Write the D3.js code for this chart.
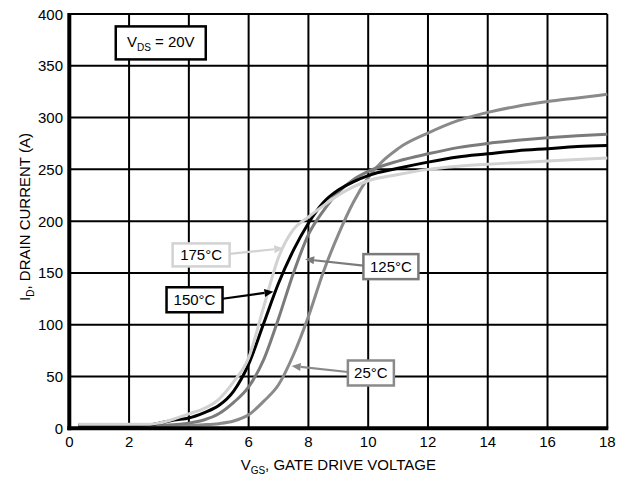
<!DOCTYPE html>
<html><head><meta charset="utf-8">
<script src="https://cdn.jsdelivr.net/npm/d3@7"></script>
<style>
html,body{margin:0;padding:0;background:#fff;}
text{font-family:"Liberation Sans",Arial,sans-serif;}
</style></head>
<body><svg id="c" width="629" height="479"></svg>
<script>
// ---- data ----
const vgs = [0.3, 2, 2.7, 3, 3.5, 4, 4.5, 5, 5.5, 6, 6.5, 7, 7.5, 8, 8.5, 9, 9.5, 10, 11, 12, 13, 14, 15, 16, 17, 18];
const id25  = [3, 3, 3, 3, 3, 3, 3.5, 4.5, 7, 13, 26, 42, 71, 108, 151, 187, 218, 242, 270, 285, 297, 305, 311, 315.5, 319, 322.5];
const id125 = [3, 3, 3, 3, 3.5, 5, 8, 14, 25, 40, 66, 106, 150, 187, 210, 228, 240, 248, 258, 265, 271, 275, 278, 280.5, 282.5, 284];
const id150 = [3, 3, 3.5, 5, 8, 10, 15, 22, 36, 62, 101, 140, 172, 198, 218, 230, 238, 244, 251, 257, 262, 265, 268, 270, 272, 273];
const id175 = [4, 4, 4, 5, 9, 14, 19, 28, 45, 68, 117, 165, 192, 204, 215, 225, 233, 239, 245, 250, 253, 255, 256.5, 258, 259.5, 261];
const seriesNames = ["25°C", "125°C", "150°C", "175°C"];
const xTicks = [0, 2, 4, 6, 8, 10, 12, 14, 16, 18];
const yTicks = [0, 50, 100, 150, 200, 250, 300, 350, 400];

// ---- layout ----
const svg = d3.select("#c");
const x = d3.scaleLinear().domain([0, 18]).range([69.3, 607.3]);
const y = d3.scaleLinear().domain([0, 400]).range([428.3, 14]);
const colors = {"25°C": "#8a8a8a", "125°C": "#7b7b7b", "150°C": "#000000", "175°C": "#d2d2d2"};
const values = {"25°C": id25, "125°C": id125, "150°C": id150, "175°C": id175};

// grid
svg.append("g").selectAll("line.v").data(xTicks).join("line")
  .attr("x1", d => x(d)).attr("x2", d => x(d)).attr("y1", y(0)).attr("y2", y(400))
  .attr("stroke", "#000").attr("stroke-width", 2);
svg.append("g").selectAll("line.h").data(yTicks).join("line")
  .attr("x1", x(0)).attr("x2", x(18)).attr("y1", d => y(d)).attr("y2", d => y(d))
  .attr("stroke", "#000").attr("stroke-width", 2);

// curves
const line = d3.line().x((d, i) => x(vgs[i])).y(d => y(d)).curve(d3.curveMonotoneX);
seriesNames.forEach(n => {
  svg.append("path").attr("d", line(values[n])).attr("fill", "none")
    .attr("stroke", colors[n]).attr("stroke-width", 3).attr("stroke-linejoin", "round");
});

// axes (thick)
svg.append("line").attr("x1", x(0)).attr("x2", x(0)).attr("y1", y(400) - 1).attr("y2", y(0) + 2)
  .attr("stroke", "#000").attr("stroke-width", 4);
svg.append("line").attr("x1", x(0) - 2).attr("x2", x(18) + 1).attr("y1", y(0)).attr("y2", y(0))
  .attr("stroke", "#000").attr("stroke-width", 4);

// tick labels
svg.append("g").selectAll("text").data(yTicks).join("text")
  .attr("x", 63).attr("y", d => y(d) + 5.5).attr("text-anchor", "end")
  .attr("font-size", 15).text(d => d);
svg.append("g").selectAll("text").data(xTicks).join("text")
  .attr("x", d => x(d)).attr("y", 447).attr("text-anchor", "middle")
  .attr("font-size", 15).text(d => d);

// axis titles
const xt = svg.append("text").attr("x", x(9)).attr("y", 470).attr("text-anchor", "middle").attr("font-size", 15);
xt.append("tspan").text("V");
xt.append("tspan").attr("font-size", 10).attr("dy", 4).text("GS");
xt.append("tspan").attr("dy", -4).text(", GATE DRIVE VOLTAGE");

const yt = svg.append("text").attr("transform", `translate(30,217) rotate(-90)`)
  .attr("text-anchor", "middle").attr("font-size", 15);
yt.append("tspan").text("I");
yt.append("tspan").attr("font-size", 10).attr("dy", 4).text("D");
yt.append("tspan").attr("dy", -4).text(", DRAIN CURRENT (A)");

// VDS box
const vb = {cx: 3.06, cy: 372.1, w: 90, h: 33};
svg.append("rect").attr("x", x(vb.cx) - vb.w / 2).attr("y", y(vb.cy) - vb.h / 2)
  .attr("width", vb.w).attr("height", vb.h).attr("fill", "#fff").attr("stroke", "#000").attr("stroke-width", 2.5);
const vt = svg.append("text").attr("x", x(vb.cx)).attr("y", y(vb.cy) + 4.5).attr("text-anchor", "middle").attr("font-size", 15);
vt.append("tspan").text("V");
vt.append("tspan").attr("font-size", 10).attr("dy", 4).text("DS");
vt.append("tspan").attr("dy", -4).text(" = 20V");

// series labels with arrows
const notes = [
  {name: "175°C", bx: 4.41, by: 167.4, w: 57, h: 23, tx: 7.16, ty: 173.8, side: "right"},
  {name: "150°C", bx: 4.19, by: 124.1, w: 56, h: 25, tx: 6.83, ty: 131.9, side: "right"},
  {name: "125°C", bx: 10.76, by: 156.1, w: 55, h: 25, tx: 7.89, ty: 163.2, side: "left"},
  {name: "25°C", bx: 10.09, by: 53.4, w: 46, h: 25, tx: 7.44, ty: 60.2, side: "left"}
];
notes.forEach(nt => {
  const c = colors[nt.name];
  const cx = x(nt.bx), cy = y(nt.by);
  const sx = nt.side === "right" ? cx + nt.w / 2 : cx - nt.w / 2;
  const sy = cy - 1;
  const tx = x(nt.tx), ty = y(nt.ty);
  const ang = Math.atan2(ty - sy, tx - sx);
  const L = 9, W = 4;
  const bx = tx - L * Math.cos(ang), by = ty - L * Math.sin(ang);
  svg.append("line").attr("x1", sx).attr("y1", sy).attr("x2", bx).attr("y2", by)
    .attr("stroke", c).attr("stroke-width", 2.2);
  svg.append("path").attr("d",
      `M${tx},${ty}L${bx + W * Math.sin(ang)},${by - W * Math.cos(ang)}L${bx - W * Math.sin(ang)},${by + W * Math.cos(ang)}Z`)
    .attr("fill", c);
  svg.append("rect").attr("x", cx - nt.w / 2).attr("y", cy - nt.h / 2).attr("width", nt.w).attr("height", nt.h)
    .attr("fill", "#fff").attr("stroke", c).attr("stroke-width", 2.5);
  svg.append("text").attr("x", cx).attr("y", cy + 5.5).attr("text-anchor", "middle").attr("font-size", 15).text(nt.name);
});
</script></body></html>
